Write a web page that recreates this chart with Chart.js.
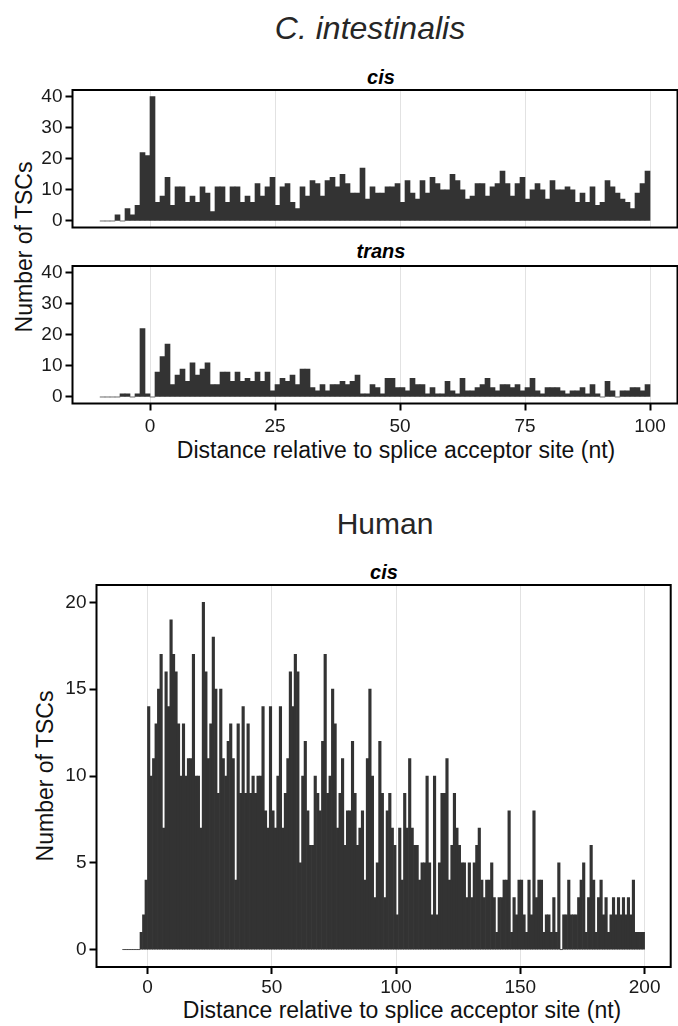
<!DOCTYPE html>
<html>
<head>
<meta charset="utf-8">
<script src="https://cdn.jsdelivr.net/npm/chart.js@4.4.1/dist/chart.umd.min.js"></script>
<style>
  html, body { margin: 0; padding: 0; background: #fff; }
  body { width: 678px; height: 1026px; position: relative; overflow: hidden;
         font-family: 'Liberation Sans', Arial, Helvetica, sans-serif; }
  .txt { position: absolute; transform: translate(-50%, -50%); white-space: nowrap; line-height: 1; color: #1a1a1a; }
  .title { font-size: 32px; color: #262626; }
  .strip { font-size: 20px; font-weight: bold; font-style: italic; color: #000; }
  .axis { font-size: 23px; color: #111; }
  .ylab { transform: translate(-50%, -50%) rotate(-90deg); }
  canvas { position: absolute; left: 0; }
</style>
</head>
<body>
<div class="txt title" style="left:370px;top:28px;font-style:italic">C. intestinalis</div>
<div class="txt strip" style="left:381px;top:77px">cis</div>
<div class="txt strip" style="left:381px;top:251px">trans</div>
<div class="txt axis" style="left:396px;top:450px">Distance relative to splice acceptor site (nt)</div>
<div class="txt axis ylab" style="left:24px;top:247px">Number of TSCs</div>

<div class="txt title" style="left:385px;top:524px;font-size:30px">Human</div>
<div class="txt strip" style="left:384px;top:572px">cis</div>
<div class="txt axis" style="left:402px;top:1010px">Distance relative to splice acceptor site (nt)</div>
<div class="txt axis ylab" style="left:45px;top:776px">Number of TSCs</div>

<canvas id="cisChart" width="678" height="178" style="top:70px"></canvas>
<canvas id="transChart" width="678" height="200" style="top:246px"></canvas>
<canvas id="humanChart" width="678" height="450" style="top:565px"></canvas>

<script>
// C. intestinalis, bins of 1 nt starting at -10
const cionaBinStart = -10;
const cionaCis = [
  0, 0, 0, 2, 0, 4, 2, 5, 22, 21,
  40, 6, 8, 14, 5, 11, 11, 6, 8, 6, 11, 9, 3, 11, 11, 6, 11, 11, 6, 8, 6, 12, 8, 11, 14, 5, 11, 12,
  6, 4, 11, 8, 13, 12, 8, 13, 14, 11, 15, 12, 9, 9, 17, 7, 11, 9, 9, 11, 11, 12, 6, 13, 9, 7, 13, 9, 14, 12, 10, 10, 15, 13, 10, 7, 8, 12,
  12, 8, 11, 12, 16, 12, 8, 12, 14, 7, 10, 12, 10, 7, 13, 10, 10, 11, 10, 6, 9, 6, 11, 5, 6, 13, 11, 9, 7, 6, 4, 9, 12, 16
];
const cionaTrans = [
  0, 0, 0, 0, 1, 1, 0, 1, 22, 1,
  0, 8, 13, 17, 4, 7, 9, 5, 11, 7, 9, 11, 4, 4, 8, 8, 5, 8, 5, 6, 5, 8, 5, 8, 2, 4, 6, 5,
  7, 4, 9, 9, 3, 2, 4, 2, 4, 4, 5, 4, 5, 7, 1, 1, 4, 3, 1, 6, 6, 3, 3, 2, 6, 4, 4, 1, 3, 1, 1, 5, 2, 1, 6, 2, 2, 3,
  4, 6, 3, 2, 4, 4, 3, 4, 2, 3, 6, 2, 1, 3, 3, 3, 2, 1, 2, 2, 3, 1, 4, 1, 0, 5, 2, 0, 2, 2, 3, 3, 2, 4
];
const cionaXTicks = [0, 25, 50, 75, 100];
const cionaYTicks = [0, 10, 20, 30, 40];

// Human, bins of 1 nt starting at -10
const humanBinStart = -10;
const humanCis = [
  0, 0, 0, 0, 0, 0, 0, 1, 2, 4,
  14, 10, 11, 13, 15, 17, 7, 16, 14, 19, 17, 16,
  13, 10, 13, 10, 11, 11, 17, 10, 10, 7, 20, 16, 11, 13, 18, 15, 9, 15, 11, 10, 12, 13, 11, 4, 13, 9, 14, 9, 13, 9,
  10, 9, 10, 10, 14, 8, 7, 14, 8, 7, 10, 14, 7, 9, 11, 16, 14,
  17, 16, 5, 10, 12, 8, 6, 6, 10, 9, 8, 12, 17, 9, 10, 15, 13, 7, 9, 11, 6, 8, 8, 12, 9, 6, 7, 8, 4, 11, 15, 10,
  3, 5, 12, 9, 3, 8, 9, 7, 6, 2, 7, 4, 9, 7, 11, 7, 6, 6, 4, 5, 5, 10, 5, 2, 10, 2, 5, 9, 9, 11, 4, 6, 9, 7, 6, 5,
  5, 3, 5, 3, 5, 6, 7, 4, 3, 4,
  4, 5, 3, 1, 3, 3, 4, 4, 8, 1, 3, 2, 4, 4, 2, 1, 4, 2, 8, 3, 4, 4, 1, 2, 2, 1, 3, 1, 5, 0,
  2, 2, 4, 2, 2, 2, 3, 4, 5, 1, 3, 6, 4, 1, 3, 4, 2, 3, 1, 2, 3, 2, 3, 2, 3, 2, 3, 2, 4, 1, 1, 1, 1
];
const humanXTicks = [0, 50, 100, 150, 200];
const humanYTicks = [0, 5, 10, 15, 20];

const FONT = "'Liberation Sans', Arial, Helvetica, sans-serif";
Chart.defaults.font.family = FONT;
Chart.defaults.color = '#1a1a1a';

// draws the black frame round each panel
const panelBorder = {
    id: 'panelBorder',
    afterDatasetsDraw(chart) {
        const { ctx, chartArea: a } = chart;
        ctx.save();
        ctx.strokeStyle = '#000';
        ctx.lineWidth = 2;
        ctx.strokeRect(a.left, a.top, a.right - a.left, a.bottom - a.top);
        ctx.restore();
    }
};

function barPoints(start, counts) {
    return counts.map((v, i) => ({ x: start + i + 0.5, y: v }));
}

// empty bins are shown as a thin grey line on the baseline
function zeroPoints(start, counts) {
    const pts = [];
    counts.forEach((v, i) => {
        if (v === 0) {
            pts.push({ x: start + i, y: 0 }, { x: start + i + 1, y: 0 }, { x: start + i + 1, y: null });
        }
    });
    return pts;
}

function makePanel(id, opt) {
    new Chart(document.getElementById(id), {
        type: 'bar',
        data: {
            datasets: [{
                type: 'bar',
                data: barPoints(opt.start, opt.counts),
                backgroundColor: '#333333',
                borderWidth: 0,
                barPercentage: 1,
                categoryPercentage: 1,
                order: 1
            }, {
                type: 'line',
                data: zeroPoints(opt.start, opt.counts),
                borderColor: '#c8c8c8',
                borderWidth: 1,
                pointRadius: 0,
                spanGaps: false,
                order: 2
            }]
        },
        options: {
            responsive: false,
            animation: false,
            events: [],
            layout: { padding: { top: 20, right: opt.right, bottom: 0, left: 0 } },
            plugins: { legend: { display: false }, tooltip: { enabled: false } },
            scales: {
                x: {
                    type: 'linear',
                    min: opt.xMin,
                    max: opt.xMax,
                    offset: false,
                    afterBuildTicks: s => { s.ticks = opt.xTicks.map(v => ({ value: v })); },
                    afterFit: s => { s.height = opt.xHeight; },
                    grid: {
                        offset: false,
                        color: '#e2e2e2',
                        lineWidth: 1,
                        drawTicks: opt.showX,
                        tickColor: '#000',
                        tickWidth: 2,
                        tickLength: 7
                    },
                    border: { display: false },
                    ticks: {
                        display: opt.showX,
                        autoSkip: false,
                        maxRotation: 0,
                        padding: opt.xPad,
                        color: '#1a1a1a',
                        font: { size: 19 }
                    }
                },
                y: {
                    min: opt.yMin,
                    max: opt.yMax,
                    afterBuildTicks: s => { s.ticks = opt.yTicks.map(v => ({ value: v })); },
                    afterFit: s => { s.width = opt.yWidth; },
                    grid: {
                        drawOnChartArea: false,
                        tickColor: '#000',
                        tickWidth: 2,
                        tickLength: 7
                    },
                    border: { display: false },
                    ticks: { padding: 3, color: '#1a1a1a', font: { size: 19 } }
                }
            }
        },
        plugins: [panelBorder]
    });
}

makePanel('cisChart', {
    start: cionaBinStart, counts: cionaCis,
    xMin: -15.5, xMax: 105.5, xTicks: cionaXTicks, showX: false, xHeight: 20.5, xPad: 5,
    yMin: -2.1, yMax: 42.1, yTicks: cionaYTicks, yWidth: 72.5, right: 0.5
});
makePanel('transChart', {
    start: cionaBinStart, counts: cionaTrans,
    xMin: -15.5, xMax: 105.5, xTicks: cionaXTicks, showX: true, xHeight: 42.5, xPad: 5,
    yMin: -2.1, yMax: 42.1, yTicks: cionaYTicks, yWidth: 72.5, right: 0.5
});
makePanel('humanChart', {
    start: humanBinStart, counts: humanCis,
    xMin: -20.5, xMax: 210.5, xTicks: humanXTicks, showX: true, xHeight: 48, xPad: 2,
    yMin: -1, yMax: 21, yTicks: humanYTicks, yWidth: 96.5, right: 7.3
});
</script>
</body>
</html>
